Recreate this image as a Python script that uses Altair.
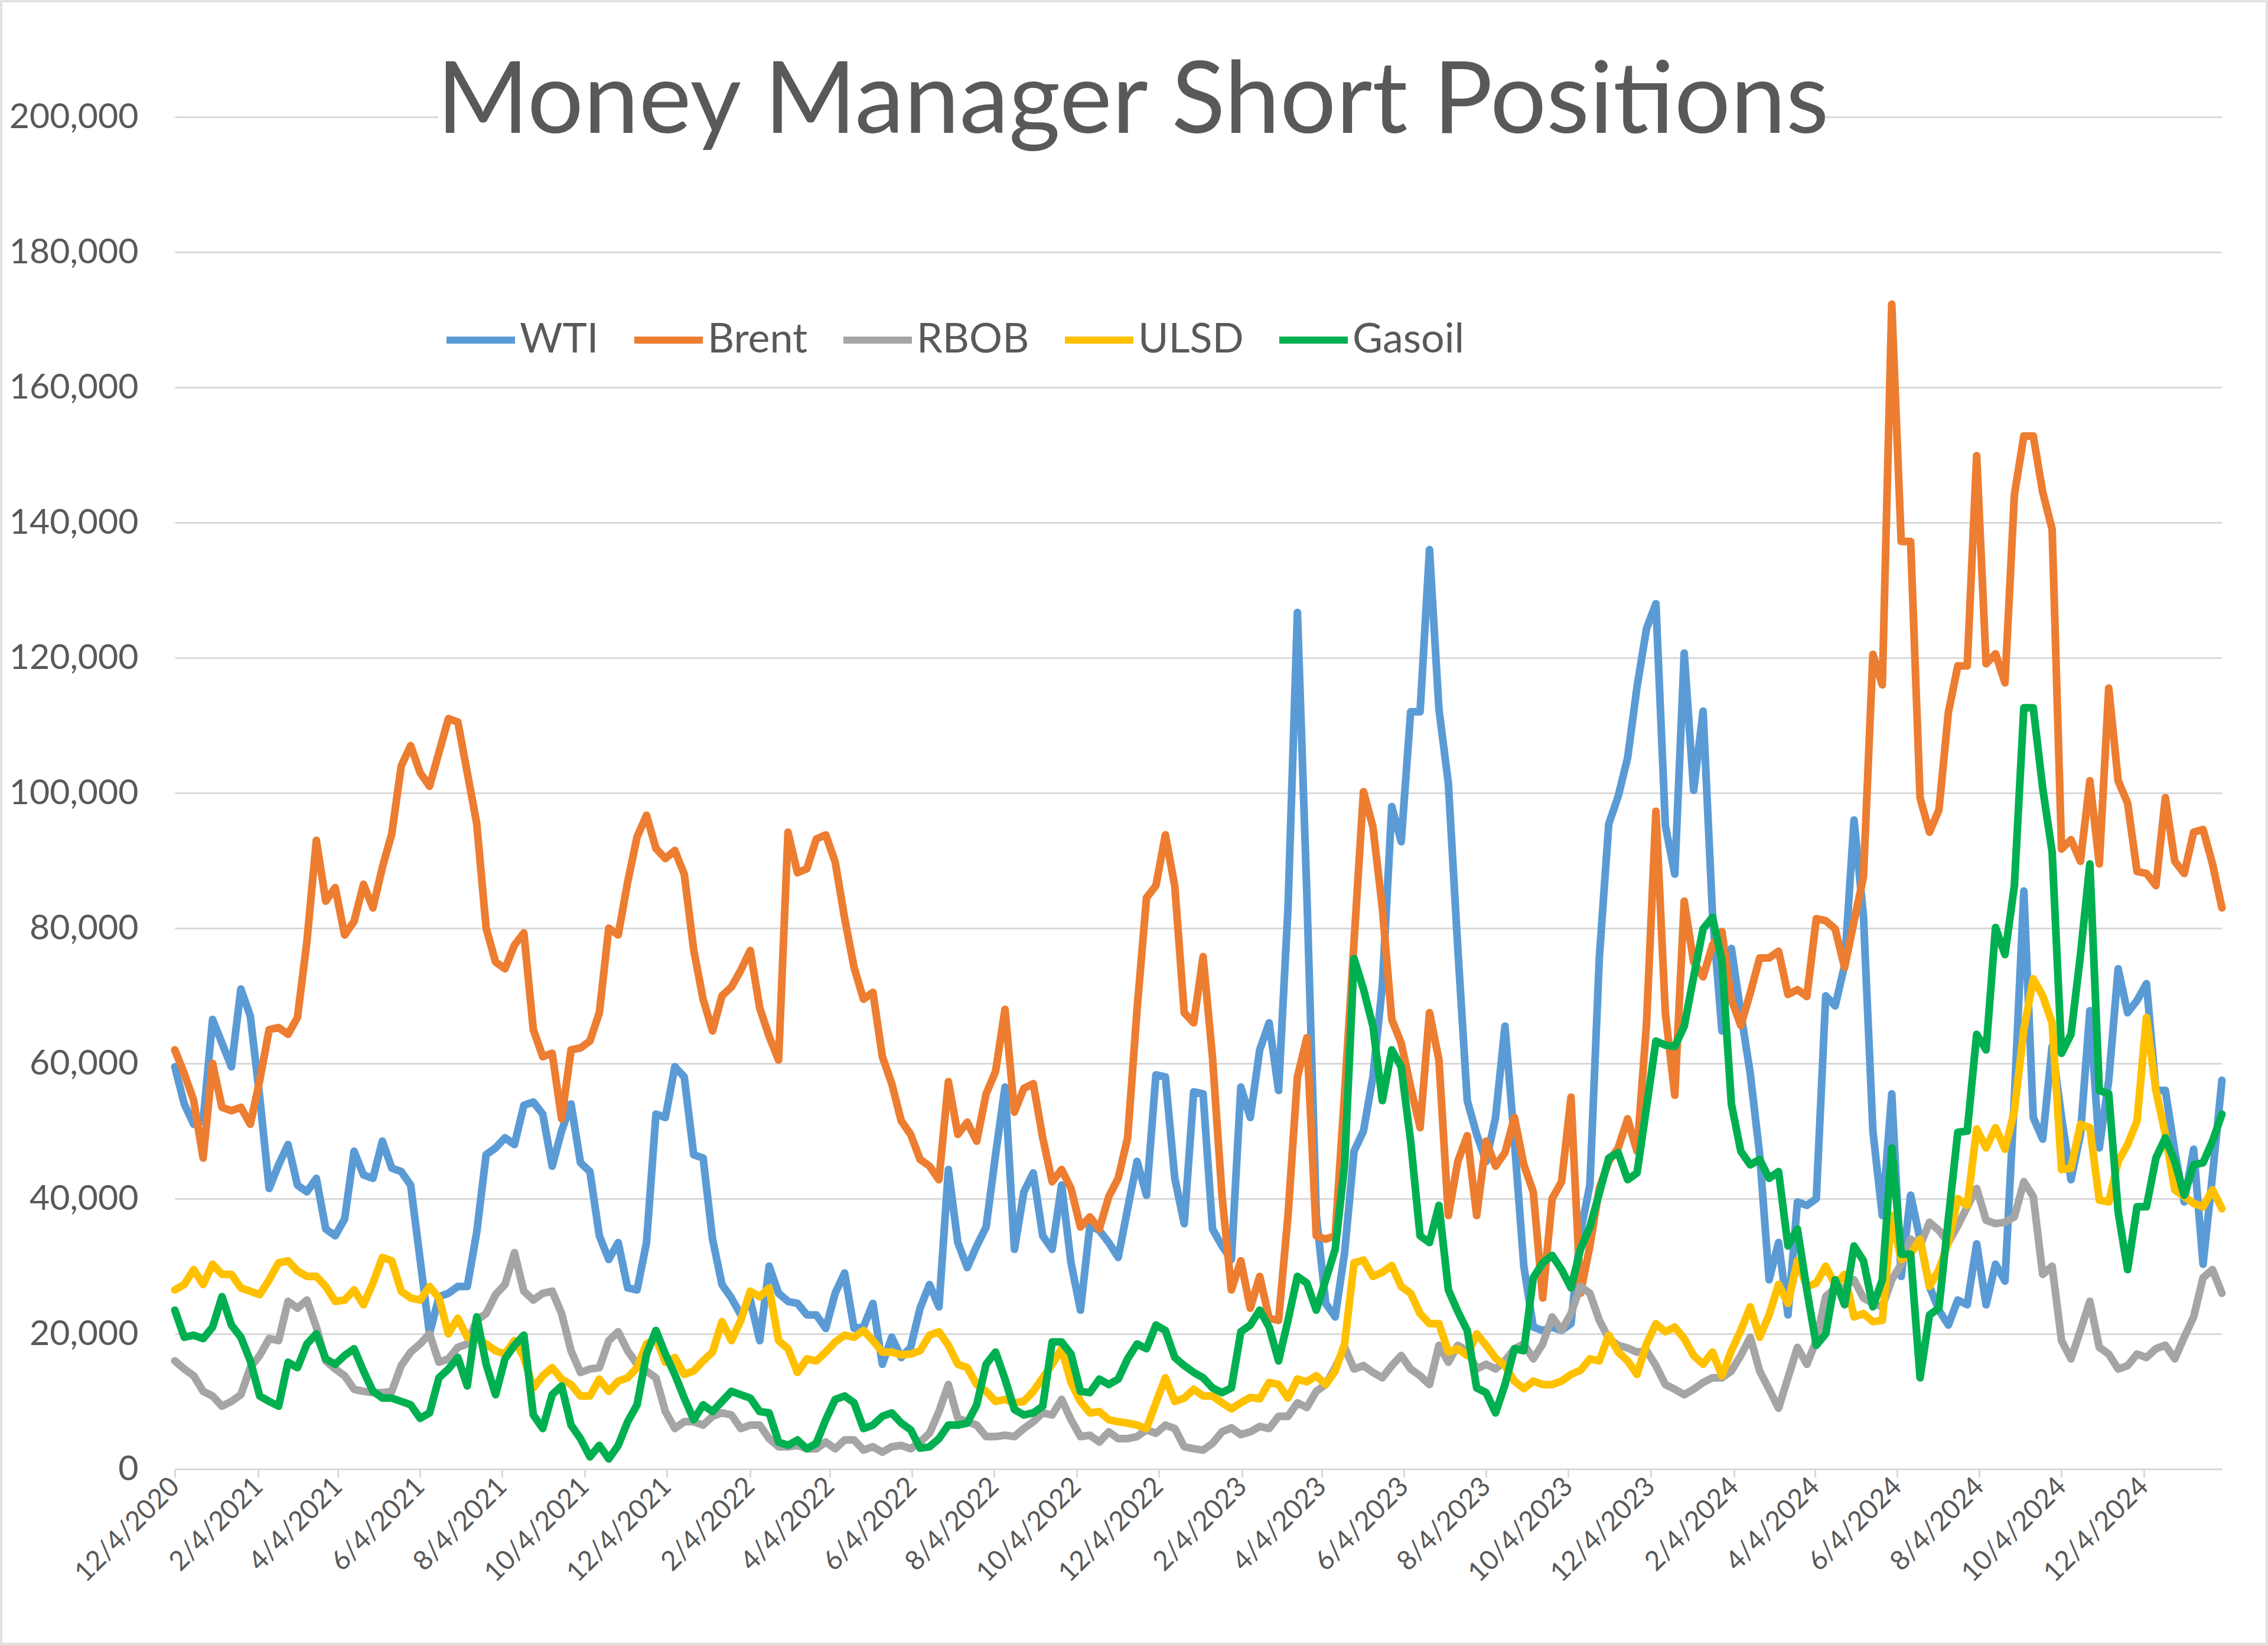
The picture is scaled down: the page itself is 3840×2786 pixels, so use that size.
import altair as alt
import pandas as pd

TITLE = "Money Manager Short Positions"
SERIES = ["WTI", "Brent", "RBOB", "ULSD", "Gasoil"]
COLORS = ["#5B9BD5", "#ED7D31", "#A5A5A5", "#FFC000", "#00B050"]
START = "2020-12-04"
N_WEEKS = 218

# values in thousands of contracts, weekly from 12/4/2020
WTI = [
    59.5, 54, 51, 51.5, 66.5, 63, 59.5, 71, 67, 55,
    41.5, 45, 48, 42, 41, 43, 35.5, 34.5, 37, 47,
    43.5, 43, 48.5, 44.5, 44, 42, 31, 20, 25.5, 26,
    27, 27, 35, 46.5, 47.5, 49, 48, 53.8, 54.3, 52.5,
    44.8, 50, 54, 45.3, 44, 34.5, 31, 33.5, 26.8, 26.5,
    33.5, 52.5, 52, 59.5, 58, 46.5, 46, 34, 27.3, 25.3,
    22.8, 25, 19, 30, 26, 24.8, 24.5, 22.8, 22.8, 20.8,
    26, 29, 20.8, 21, 24.5, 15.5, 19.5, 16.5, 18, 23.8,
    27.3, 24, 44.3, 33.5, 29.8, 33, 35.8, 46.5, 56.5, 32.5,
    41, 43.8, 34.5, 32.5, 42, 30.5, 23.5, 36, 35.3, 33.5,
    31.3, 38.5, 45.5, 40.5, 58.3, 58, 43, 36.3, 55.8, 55.5,
    35.5, 33, 31, 56.5, 52, 62, 66, 56, 83, 126.7,
    85, 37.5, 24.5, 22.5, 32, 47, 50, 58, 71.5, 98,
    92.8, 112, 112, 136, 112.4, 101.4, 77, 54.5, 49.5, 45.5,
    52, 65.5, 48.5, 30, 21, 20.5, 21, 20.5, 21.5, 35,
    42, 75.6, 95.4, 99.5, 105.2, 115.7, 124.3, 128, 95.2, 88,
    120.7, 100.4, 112.1, 82, 64.8, 77, 67.5, 58.5, 46.5, 28,
    33.5, 22.8, 39.5, 39, 40, 70, 68.5, 74.5, 96, 81.8,
    50, 37.5, 55.5, 28.5, 40.5, 34, 27, 23.5, 21.3, 25,
    24.3, 33.3, 24.3, 30.3, 27.8, 55, 85.5, 52, 48.8, 62.5,
    52, 42.8, 49.5, 67.8, 47.5, 57.5, 74, 67.5, 69.3, 71.8,
    56, 56, 47, 39.5, 47.3, 30.3, 43.5, 57.5,
]

BRENT = [
    62, 58.5, 54.5, 46, 60, 53.5, 53, 53.5, 51, 57.5,
    65, 65.3, 64.3, 66.8, 78, 93, 84, 86, 79, 81,
    86.5, 83, 89, 94, 104, 107, 103, 101, 106, 111,
    110.5, 103, 95.5, 80, 75, 74, 77.5, 79.3, 65, 61,
    61.5, 51.8, 62, 62.3, 63.3, 67.5, 80, 79, 86.8, 93.5,
    96.7, 91.8, 90.3, 91.5, 88, 76.8, 69.5, 64.8, 70, 71.3,
    73.8, 76.7, 68.2, 64, 60.5, 94.2, 88.2, 88.8, 93.2, 93.8,
    89.8, 81.5, 74.2, 69.5, 70.5, 61, 57, 51.5, 49.5, 45.8,
    44.8, 42.8, 57.3, 49.5, 51.3, 48.5, 55.5, 58.8, 68, 52.8,
    56.3, 57, 49, 42.5, 44.3, 41.5, 35.8, 37.3, 35.5, 40.3,
    43, 49, 68, 84.5, 86.3, 93.8, 86.2, 67.5, 66, 75.8,
    60.8, 40.5, 26.5, 30.8, 23.8, 28.5, 22.3, 22, 37.5, 58,
    63.8, 34.5, 34, 34.5, 55.6, 78, 100.2, 95, 83, 66.5,
    63, 56.5, 50.5, 67.5, 60.5, 37.5, 45.5, 49.3, 37.5, 48.5,
    44.8, 46.8, 52, 45, 41, 25.3, 40, 42.5, 55, 26,
    33, 41.5, 45.5, 47.5, 51.8, 47, 65.8, 97.3, 67.5, 55.3,
    84, 75, 72.8, 77.5, 79.5, 69.4, 65.6, 70.4, 75.6, 75.6,
    76.6, 70.2, 70.9, 69.9, 81.4, 81.1, 79.9, 74.2, 81, 87.6,
    120.5, 116, 172.3, 137.2, 137.2, 99.3, 94.2, 97.5, 111.9, 118.8,
    118.8, 149.9, 119.1, 120.6, 116.3, 144.1, 152.8, 152.8, 144.5, 139,
    91.7, 93.1, 89.9, 101.8, 89.5, 115.5, 101.8, 98.5, 88.4, 88.1,
    86.3, 99.3, 89.9, 88.1, 94.2, 94.6, 89.5, 83,
]

RBOB = [
    16, 14.8, 13.8, 11.5, 10.8, 9.3, 10, 11, 15, 16.8,
    19.3, 19, 24.8, 23.8, 25, 21, 16, 14.8, 13.8, 11.8,
    11.5, 11.3, 11.3, 11.5, 15.3, 17.3, 18.5, 20, 15.8, 16.3,
    18, 18.5, 22, 23, 25.8, 27.3, 32, 26.3, 25, 26,
    26.3, 23, 17.5, 14.3, 14.8, 15, 19, 20.3, 17.5, 15.5,
    14.5, 13.5, 8.5, 6, 7, 7, 6.5, 7.8, 8.3, 8,
    6, 6.5, 6.5, 4.5, 3.3, 3.3, 3.5, 3, 3, 4,
    3, 4.3, 4.3, 2.8, 3.3, 2.5, 3.3, 3.5, 3, 4,
    5.3, 8.5, 12.5, 7.5, 7, 6.5, 4.8, 4.8, 5, 4.8,
    6, 7, 8.3, 8, 10.3, 7.3, 4.8, 5, 4, 5.5,
    4.5, 4.5, 4.8, 5.8, 5.3, 6.5, 6, 3.3, 3, 2.8,
    3.8, 5.5, 6.1, 5.1, 5.5, 6.3, 6, 7.8, 7.8, 9.8,
    9.1, 11.5, 12.5, 15, 18, 14.8, 15.3, 14.3, 13.5, 15.3,
    16.8, 14.8, 13.8, 12.5, 18.3, 15.8, 18.3, 17.5, 14.8, 15.5,
    14.8, 16, 17.8, 18.5, 16.3, 18.5, 22.5, 20.5, 23, 27,
    26, 22, 19.3, 18.3, 17.9, 17.3, 17.5, 15.3, 12.5, 11.8,
    11, 11.8, 12.8, 13.5, 13.5, 14.5, 16.8, 19.5, 14.5, 11.8,
    9, 13.5, 18, 15.5, 19, 25.5, 26.8, 26.9, 28, 25.3,
    24.5, 24, 28, 30.3, 34, 33, 36.5, 35.3, 33.5, 36,
    38.8, 41.5, 36.8, 36.3, 36.5, 37.3, 42.5, 40.3, 28.8, 30,
    19, 16.3, 20.5, 24.8, 18, 17, 14.8, 15.3, 17, 16.5,
    17.8, 18.3, 16.3, 19.5, 22.5, 28.3, 29.5, 26,
]

ULSD = [
    26.5, 27.3, 29.5, 27.3, 30.3, 28.8, 28.8, 26.8, 26.3, 25.8,
    28, 30.5, 30.8, 29.3, 28.5, 28.5, 27, 24.8, 25, 26.5,
    24.3, 27.5, 31.3, 30.8, 26.3, 25.3, 25, 27, 25.3, 20,
    22.3, 19.5, 19.3, 18.5, 17.5, 17, 19, 16.5, 12, 13.8,
    15, 13.3, 12.5, 10.8, 10.8, 13.3, 11.5, 13, 13.5, 15,
    18.5, 19.3, 15.8, 16.5, 14, 14.5, 16, 17.3, 21.8, 19,
    22, 26.3, 25.5, 26.8, 19, 17.8, 14.3, 16.3, 16, 17.3,
    18.8, 19.8, 19.5, 20.5, 19, 17.3, 17.3, 16.9, 17, 17.5,
    19.8, 20.3, 18.3, 15.5, 15, 12.5, 11.5, 10, 10.3, 9.8,
    10, 11.5, 13.5, 15.5, 17.8, 12.8, 10, 8.3, 8.5, 7.3,
    7, 6.8, 6.5, 6, 9.8, 13.5, 10, 10.5, 11.8, 10.8,
    10.8, 9.8, 8.9, 9.8, 10.6, 10.4, 12.8, 12.5, 10.5, 13.3,
    12.9, 13.8, 12.5, 14.5, 18.5, 30.5, 30.9, 28.5, 29.1, 30.1,
    27, 26, 23, 21.5, 21.5, 17.3, 17.8, 16.8, 20, 18.3,
    16.4, 15.3, 13, 11.9, 13, 12.5, 12.5, 13, 14, 14.6,
    16.3, 16, 19.8, 17.3, 16, 14, 18.5, 21.5, 20.3, 21,
    19.3, 16.8, 15.5, 17.3, 13.8, 17.5, 20.5, 24, 19.5, 22.8,
    27.3, 24.5, 30.8, 27, 27.5, 30, 27.3, 28.8, 22.5, 23,
    21.8, 22, 37.5, 31, 31.8, 34, 27, 29.5, 33.5, 40,
    39, 50.3, 47.5, 50.5, 47.3, 53, 65, 72.5, 70, 66,
    44.3, 44.5, 51, 50.5, 39.8, 39.5, 45.5, 48, 51.5, 66.8,
    56, 49.5, 41.3, 40.3, 39.3, 38.8, 41.3, 38.5,
]

GASOIL = [
    23.5, 19.5, 19.8, 19.3, 21, 25.5, 21.3, 19.5, 16, 10.8,
    10, 9.3, 15.8, 15, 18.5, 20, 16.3, 15.5, 16.8, 17.8,
    14.5, 11.5, 10.5, 10.5, 10, 9.5, 7.5, 8.3, 13.5, 14.8,
    16.5, 12.3, 22.5, 15.5, 11, 16.3, 18.3, 19.8, 8, 6,
    11, 12.3, 6.5, 4.5, 1.8, 3.5, 1.5, 3.5, 7, 9.5,
    17, 20.5, 17, 14, 10.5, 7.3, 9.5, 8.5, 10, 11.5,
    11, 10.5, 8.5, 8.3, 4, 3.5, 4.3, 3, 3.8, 7.3,
    10.3, 10.8, 9.8, 6, 6.5, 7.8, 8.3, 6.8, 5.8, 3.1,
    3.3, 4.5, 6.5, 6.5, 6.8, 9.5, 15.5, 17.3, 13.3, 8.8,
    8, 8.3, 9.3, 18.8, 18.8, 17, 11.5, 11.3, 13.3, 12.5,
    13.3, 16.3, 18.5, 17.8, 21.3, 20.5, 16.5, 15.3, 14.3, 13.5,
    12, 11.3, 12, 20.3, 21.3, 23.5, 21, 16, 22, 28.5,
    27.5, 23.5, 28, 32.5, 45, 75.5, 71, 65.5, 54.5, 62,
    59.5, 48.5, 34.5, 33.5, 39, 26.5, 23.3, 20.5, 12, 11.3,
    8.3, 12.5, 17.8, 17.5, 28.3, 30.5, 31.6, 29.5, 26.8, 32.5,
    35.8, 40.8, 46, 46.8, 42.8, 43.8, 53.5, 63.3, 62.7, 62.5,
    65.5, 72.8, 79.9, 81.6, 75.2, 54, 47, 45, 45.8, 43,
    44, 33, 35.5, 26.5, 18.3, 20, 28, 24.3, 33, 30.8,
    24, 28, 47.5, 31.8, 31.8, 13.5, 22.8, 23.8, 37, 49.8,
    50, 64.3, 62, 80.1, 76.1, 86.3, 112.6, 112.6, 100.7, 91.3,
    61.5, 64.3, 76, 89.5, 56, 55.5, 38, 29.5, 38.8, 38.8,
    46, 49, 45.5, 40.5, 45, 45.3, 48.5, 52.5,
]

TICK_DATES = [
    "2020-12-04", "2021-02-04", "2021-04-04", "2021-06-04", "2021-08-04",
    "2021-10-04", "2021-12-04", "2022-02-04", "2022-04-04", "2022-06-04",
    "2022-08-04", "2022-10-04", "2022-12-04", "2023-02-04", "2023-04-04",
    "2023-06-04", "2023-08-04", "2023-10-04", "2023-12-04", "2024-02-04",
    "2024-04-04", "2024-06-04", "2024-08-04", "2024-10-04", "2024-12-04",
]
Y_TICKS = [0, 20000, 40000, 60000, 80000, 100000, 120000, 140000, 160000, 180000, 200000]

FONT = "Lato"
TEXT_COLOR = "#595959"
GRID_COLOR = "#D9D9D9"

# ---- build table ----
dates = pd.date_range(START, periods=N_WEEKS, freq="7D").strftime("%Y-%m-%d").tolist()
rows = []
for name, vals in zip(SERIES, [WTI, BRENT, RBOB, ULSD, GASOIL]):
    for d, v in zip(dates, vals):
        rows.append({"date": d, "series": name, "value": v * 1000})
df = pd.DataFrame(rows)


def dt(s):
    y, m, d = (int(p) for p in s.split("-"))
    return alt.DateTime(year=y, month=m, date=d, utc=True)


W, H = 3466, 2290
PAD = {"left": 296, "top": 198, "right": 78, "bottom": 298}

lines = alt.Chart(df).mark_line(
    strokeWidth=13, strokeJoin="round", strokeCap="round"
).encode(
    x=alt.X(
        "date:T",
        scale=alt.Scale(type="utc", domain=[dt(dates[0]), dt(dates[-1])], nice=False),
        axis=alt.Axis(
            title=None,
            values=[dt(s) for s in TICK_DATES],
            labelExpr="utcFormat(datum.value, '%-m/%-d/%Y')",
            labelAngle=315,
            labelAlign="right",
            labelBaseline="middle",
            labelFont=FONT,
            labelFontSize=46,
            labelColor=TEXT_COLOR,
            labelPadding=8,
            labelOverlap=False,
            labelFlush=False,
            labelBound=False,
            labelLimit=1000,
            grid=False,
            domainColor=GRID_COLOR,
            domainWidth=3,
            tickColor=GRID_COLOR,
            tickWidth=3,
            tickSize=14,
        ),
    ),
    y=alt.Y(
        "value:Q",
        scale=alt.Scale(domain=[0, 200000], nice=False),
        axis=alt.Axis(
            title=None,
            values=Y_TICKS,
            format=",.0f",
            labelFont=FONT,
            labelFontSize=59,
            labelColor=TEXT_COLOR,
            labelPadding=62,
            labelLimit=1000,
            ticks=False,
            domain=False,
            grid=True,
            gridColor=GRID_COLOR,
            gridWidth=3,
        ),
    ),
    color=alt.Color(
        "series:N",
        scale=alt.Scale(domain=SERIES, range=COLORS),
        sort=SERIES,
        legend=alt.Legend(
            orient="none",
            legendX=454,
            legendY=314,
            direction="horizontal",
            columns=5,
            title=None,
            symbolType="stroke",
            symbolSize=13456,
            symbolStrokeWidth=12,
            labelFont=FONT,
            labelFontSize=70,
            labelColor=TEXT_COLOR,
            labelOffset=2,
            labelLimit=1000,
            columnPadding=36,
            padding=0,
        ),
    ),
)

one = pd.DataFrame({"label": [TITLE]})

title_bg = alt.Chart(one).mark_rect(fill="white").encode(
    x=alt.value(446), x2=alt.value(2795), y=alt.value(-16), y2=alt.value(16)
)

title_text = alt.Chart(one).mark_text(
    font=FONT, fontSize=168, color=TEXT_COLOR, align="center", baseline="alphabetic"
).encode(text="label:N", x=alt.value(1622), y=alt.value(27))

frame = alt.Chart(one).mark_rect(fillOpacity=0, stroke=GRID_COLOR, strokeWidth=3).encode(
    x=alt.value(-PAD["left"] + 2),
    x2=alt.value(W + PAD["right"] - 2),
    y=alt.value(-PAD["top"] + 2),
    y2=alt.value(H + PAD["bottom"] - 2),
)

chart = alt.layer(lines, title_bg, title_text, frame).properties(
    width=W,
    height=H,
    padding=PAD,
    autosize=alt.AutoSizeParams(type="none"),
).configure(background="white").configure_view(stroke=None)

chart.save("out.html", embed_options={"renderer": "svg", "actions": False})
